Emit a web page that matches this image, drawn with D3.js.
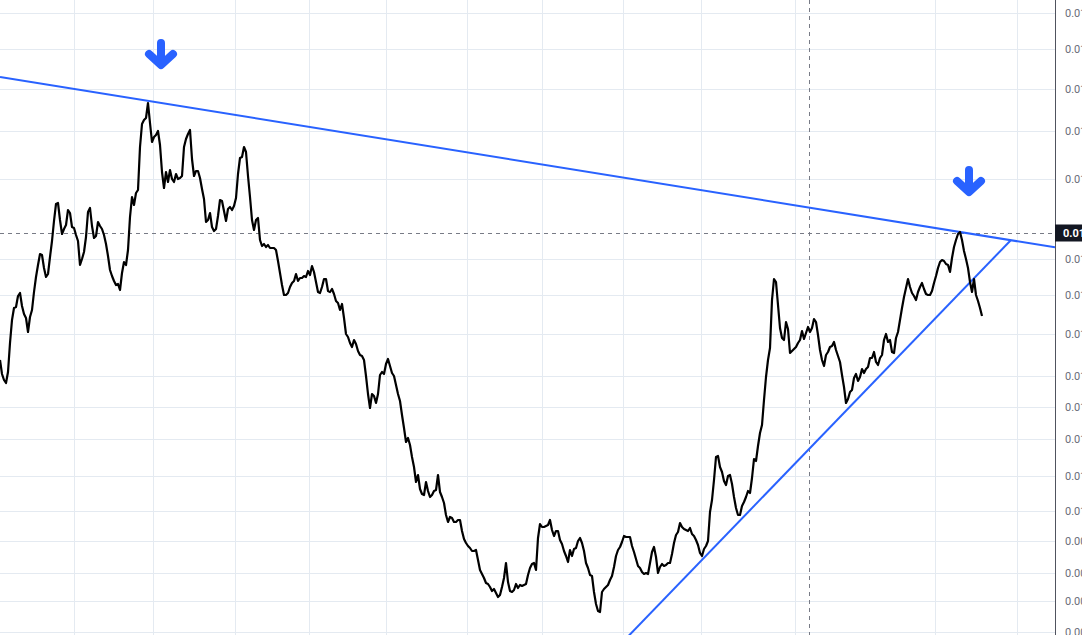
<!DOCTYPE html>
<html><head><meta charset="utf-8">
<script src="https://cdn.jsdelivr.net/npm/d3@7"></script>
<style>html,body{margin:0;padding:0;background:#fff;overflow:hidden}</style>
</head><body><svg id="c" width="1082" height="635"></svg>
<script>
// ---- data (prices, one close per bar) ----
const close = [
0.01302,0.01274,0.01262,0.01256,0.01278,0.01336,0.01382,0.01406,0.01408,0.01430,
0.01436,0.01410,0.01394,0.01386,0.01358,0.01388,0.01402,0.01438,0.01468,0.01492,
0.01514,0.01512,0.01486,0.01468,0.01474,0.01508,0.01540,0.01580,0.01614,0.01616,
0.01582,0.01554,0.01564,0.01572,0.01602,0.01596,0.01568,0.01566,0.01552,0.01540,
0.01492,0.01504,0.01518,0.01548,0.01598,0.01606,0.01570,0.01546,0.01550,0.01578,
0.01570,0.01564,0.01552,0.01534,0.01510,0.01482,0.01470,0.01460,0.01452,0.01454,
0.01442,0.01476,0.01498,0.01492,0.01522,0.01588,0.01628,0.01612,0.01636,0.01642,
0.01728,0.01774,0.01782,0.01786,0.01816,0.01776,0.01738,0.01748,0.01752,0.01760,
0.01732,0.01678,0.01646,0.01678,0.01658,0.01682,0.01664,0.01658,0.01674,0.01664,
0.01666,0.01670,0.01728,0.01744,0.01754,0.01762,0.01704,0.01670,0.01680,0.01680,
0.01666,0.01644,0.01624,0.01578,0.01582,0.01596,0.01568,0.01560,0.01564,0.01590,
0.01622,0.01620,0.01600,0.01580,0.01604,0.01608,0.01602,0.01610,0.01626,0.01674,
0.01706,0.01708,0.01728,0.01718,0.01670,0.01628,0.01582,0.01562,0.01582,0.01586,
0.01542,0.01530,0.01534,0.01528,0.01532,0.01526,0.01526,0.01526,0.01522,0.01500,
0.01476,0.01452,0.01432,0.01432,0.01436,0.01448,0.01456,0.01460,0.01474,0.01460,
0.01466,0.01466,0.01470,0.01468,0.01480,0.01472,0.01490,0.01478,0.01458,0.01438,
0.01436,0.01448,0.01464,0.01464,0.01440,0.01438,0.01444,0.01434,0.01420,0.01416,
0.01402,0.01414,0.01386,0.01354,0.01348,0.01336,0.01328,0.01342,0.01334,0.01320,
0.01312,0.01310,0.01302,0.01270,0.01234,0.01206,0.01234,0.01230,0.01216,0.01234,
0.01272,0.01278,0.01274,0.01294,0.01304,0.01290,0.01276,0.01270,0.01252,0.01234,
0.01220,0.01192,0.01166,0.01138,0.01146,0.01132,0.01108,0.01088,0.01058,0.01072,
0.01044,0.01034,0.01032,0.01058,0.01040,0.01028,0.01032,0.01040,0.01042,0.01072,
0.01038,0.01028,0.01016,0.00992,0.00978,0.00988,0.00986,0.00978,0.00978,0.00982,
0.00982,0.00960,0.00944,0.00936,0.00930,0.00926,0.00920,0.00920,0.00922,0.00902,
0.00882,0.00874,0.00866,0.00856,0.00854,0.00848,0.00840,0.00844,0.00836,0.00828,
0.00832,0.00848,0.00866,0.00896,0.00858,0.00840,0.00838,0.00842,0.00854,0.00846,
0.00852,0.00850,0.00852,0.00854,0.00872,0.00886,0.00894,0.00896,0.00882,0.00946,
0.00974,0.00968,0.00968,0.00970,0.00972,0.00982,0.00962,0.00950,0.00960,0.00960,
0.00942,0.00934,0.00920,0.00910,0.00898,0.00922,0.00910,0.00924,0.00926,0.00940,
0.00946,0.00936,0.00920,0.00896,0.00886,0.00872,0.00870,0.00838,0.00814,0.00800,
0.00798,0.00838,0.00844,0.00848,0.00852,0.00862,0.00870,0.00888,0.00910,0.00922,
0.00928,0.00938,0.00950,0.00948,0.00948,0.00948,0.00930,0.00918,0.00904,0.00890,
0.00886,0.00878,0.00874,0.00876,0.00874,0.00896,0.00918,0.00928,0.00908,0.00876,
0.00888,0.00894,0.00890,0.00892,0.00896,0.00896,0.00914,0.00936,0.00952,0.00958,
0.00976,0.00968,0.00964,0.00962,0.00960,0.00966,0.00954,0.00950,0.00942,0.00932,
0.00916,0.00910,0.00924,0.00930,0.00940,0.00998,0.01022,0.01062,0.01108,0.01110,
0.01088,0.01078,0.01060,0.01052,0.01070,0.01072,0.01054,0.01028,0.01006,0.00992,
0.00992,0.01010,0.01018,0.01028,0.01040,0.01036,0.01066,0.01104,0.01100,0.01130,
0.01156,0.01172,0.01222,0.01268,0.01302,0.01326,0.01422,0.01464,0.01458,0.01412,
0.01366,0.01346,0.01342,0.01378,0.01364,0.01316,0.01320,0.01324,0.01328,0.01336,
0.01342,0.01360,0.01344,0.01356,0.01368,0.01358,0.01366,0.01384,0.01378,0.01352,
0.01322,0.01302,0.01290,0.01312,0.01318,0.01328,0.01330,0.01338,0.01322,0.01310,
0.01298,0.01272,0.01248,0.01216,0.01224,0.01238,0.01242,0.01266,0.01274,0.01260,
0.01268,0.01284,0.01276,0.01284,0.01288,0.01306,0.01306,0.01318,0.01298,0.01292,
0.01306,0.01312,0.01342,0.01354,0.01338,0.01342,0.01318,0.01316,0.01346,0.01358,
0.01382,0.01406,0.01428,0.01446,0.01464,0.01448,0.01436,0.01430,0.01422,0.01438,
0.01448,0.01456,0.01444,0.01434,0.01432,0.01432,0.01440,0.01456,0.01470,0.01486,
0.01498,0.01502,0.01500,0.01494,0.01492,0.01478,0.01506,0.01528,0.01542,0.01554,
0.01558,0.01542,0.01520,0.01504,0.01486,0.01458,0.01438,0.01464,0.01432,0.01420,
0.01406,0.01390
];
// time grid positions (bar index of each period start)
const timeGridIdx = [37, 76.5, 117.5, 154.5, 193, 233.5, 271, 311.5, 350.5, 397.5, 467.5, 508.5];
// price axis tick values
const priceTicks = [0.01996,0.01924,0.01844,0.01760,0.01664,0.01504,0.01432,0.01354,0.01270,
                    0.01208,0.01144,0.01070,0.01000,0.00940,0.00876,0.00820,0.00758];
// crosshair (bar index, price)
const crossIdx = 404.5, crossPrice = 0.01556;
// trend lines: anchor points [bar index, price]
const resistanceAnchors = [[0, 0.01868], [480, 0.01558]];
const supportAnchors = [[335, 0.00836], [420, 0.01188]];
// down-arrow markers [bar index, price at arrow tip]
const arrowMarks = [[80.5, 0.01892], [484.5, 0.01638]];

// ---- layout ----
const W = 1082, H = 635, plotW = 1055, barStep = 2;
const blue = "#2962ff";
const svg = d3.select("#c");

const x = d3.scaleLinear().domain([0, close.length - 1]).range([0, (close.length - 1) * barStep]);
const y = d3.scaleLinear().domain([0.00752, 0.02022]).range([H, 0]);

svg.append("rect").attr("width", W).attr("height", H).attr("fill", "#fff");
svg.append("defs").append("clipPath").attr("id", "plot")
  .append("rect").attr("width", plotW).attr("height", H);

const plot = svg.append("g").attr("clip-path", "url(#plot)");

// grid
plot.append("g").selectAll("line").data(priceTicks).join("line")
  .attr("x1", 0).attr("x2", plotW)
  .attr("y1", d => Math.round(y(d)) + 0.5).attr("y2", d => Math.round(y(d)) + 0.5)
  .attr("stroke", "#e4eaf1").attr("stroke-width", 1);
plot.append("g").selectAll("line").data(timeGridIdx).join("line")
  .attr("x1", d => Math.round(x(d)) + 0.5).attr("x2", d => Math.round(x(d)) + 0.5)
  .attr("y1", 0).attr("y2", H)
  .attr("stroke", "#e4eaf1").attr("stroke-width", 1);

// crosshair
plot.append("line")
  .attr("x1", 0).attr("x2", plotW)
  .attr("y1", Math.round(y(crossPrice)) + 0.5).attr("y2", Math.round(y(crossPrice)) + 0.5)
  .attr("stroke", "#787b86").attr("stroke-dasharray", "4 4");
plot.append("line")
  .attr("x1", Math.round(x(crossIdx)) + 0.5).attr("x2", Math.round(x(crossIdx)) + 0.5)
  .attr("y1", 0).attr("y2", H)
  .attr("stroke", "#787b86").attr("stroke-dasharray", "4 4");

// trend lines
const lineThrough = (a) => {
  const m = (a[1][1] - a[0][1]) / (a[1][0] - a[0][0]);
  return { m, b: a[0][1] - m * a[0][0], at(i) { return this.b + this.m * i; } };
};
const res = lineThrough(resistanceAnchors);
const sup = lineThrough(supportAnchors);
const i0 = x.invert(0), i1 = x.invert(plotW);
plot.append("line")
  .attr("x1", x(i0)).attr("y1", y(res.at(i0)))
  .attr("x2", x(i1)).attr("y2", y(res.at(i1)))
  .attr("stroke", blue).attr("stroke-width", 2);
const supStart = (y.domain()[0] - 0.0002 - sup.b) / sup.m;
const supEnd = (res.b - sup.b) / (sup.m - res.m);
plot.append("line")
  .attr("x1", x(supStart)).attr("y1", y(sup.at(supStart)))
  .attr("x2", x(supEnd)).attr("y2", y(sup.at(supEnd)))
  .attr("stroke", blue).attr("stroke-width", 2);

// price line
plot.append("path").datum(close)
  .attr("d", d3.line().x((d, i) => x(i)).y(d => y(d)))
  .attr("fill", "none").attr("stroke", "#000").attr("stroke-width", 2.2)
  .attr("stroke-linejoin", "round");

// arrows
const arrowG = plot.append("g").selectAll("g").data(arrowMarks).join("g")
  .attr("transform", d => `translate(${x(d[0])},${y(d[1])})`);
arrowG.append("path").attr("d", "M0,-22L0,-3M-12,-11L0,0L12,-11")
  .attr("fill", "none").attr("stroke", blue).attr("stroke-width", 8)
  .attr("stroke-linecap", "round").attr("stroke-linejoin", "round");

// price axis
const axisG = svg.append("g").attr("transform", `translate(${plotW},0)`)
  .call(d3.axisRight(y).tickValues(priceTicks).tickFormat(d3.format(".5f")).tickSize(0).tickPadding(10));
axisG.select(".domain").remove();
axisG.selectAll("text").attr("fill", "#6a6d78").style("font-family", "Roboto, 'Liberation Sans', sans-serif").style("font-size", "11px");
svg.append("line").attr("x1", plotW + 0.5).attr("x2", plotW + 0.5).attr("y1", 0).attr("y2", H)
  .attr("stroke", "#50535e").attr("stroke-width", 1);

// crosshair price label
const cy = y(crossPrice);
svg.append("rect").attr("x", plotW).attr("y", cy - 8.5).attr("width", W - plotW).attr("height", 17)
  .attr("fill", "#131722");
svg.append("text").attr("x", plotW + 8).attr("y", cy).attr("dy", "0.35em")
  .attr("fill", "#fff").style("font-family", "Roboto, 'Liberation Sans', sans-serif")
  .style("font-size", "11px").style("font-weight", "bold")
  .text(d3.format(".5f")(crossPrice));
</script></body></html>
